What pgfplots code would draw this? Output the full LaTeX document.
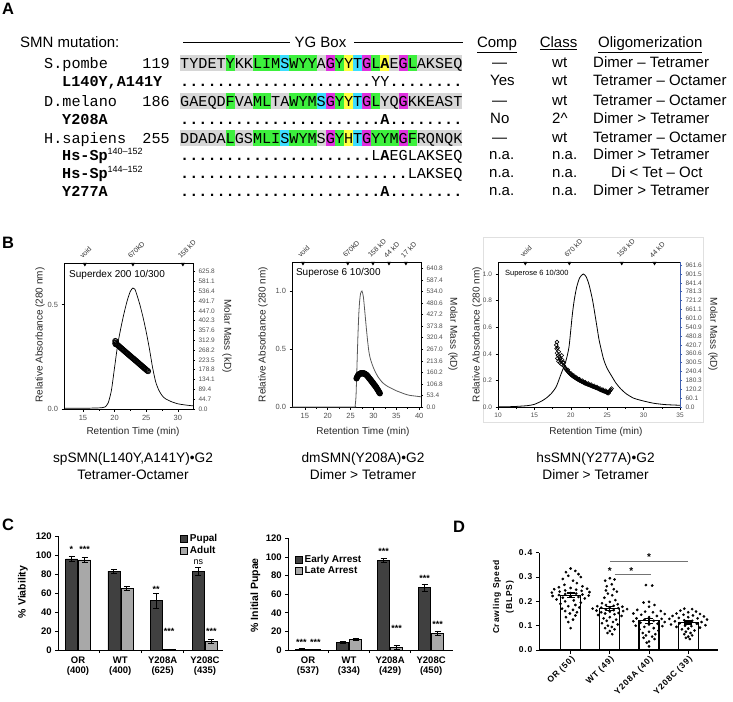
\documentclass[border=0pt]{standalone}
\usepackage{pgfplots}
\pgfplotsset{compat=1.18}
\usepackage{fontspec}
\setmainfont{Liberation Sans}
\newfontfamily\seqfont{Liberation Mono}
\newfontfamily\spfont[LetterSpace=10]{Liberation Sans}

\definecolor{hgray}{HTML}{D6D6D6}
\definecolor{hgreen}{HTML}{3DF03D}
\definecolor{hcyan}{HTML}{3DDDFF}
\definecolor{hmag}{HTML}{E030E0}
\definecolor{hyel}{HTML}{FFFF40}
\definecolor{bardark}{HTML}{404040}
\definecolor{barlight}{HTML}{A8A8A8}
\definecolor{tickgray}{HTML}{505050}
\definecolor{mmblue}{HTML}{4060B0}

\newcommand\seqF{\seqfont\fontsize{15.17}{16}\selectfont}
\newcommand\hl[4]{\fill[#1] ({180+(#2-1)*9.104},{#3-13.3}) rectangle ({180+(#2-1+#4)*9.104},{#3+3.4});}
\newcommand\supnum[1]{\raisebox{5.5pt}{\rmfamily\fontsize{9}{9}\selectfont #1}}

\tikzset{sigstar/.style={font=\bfseries\fontsize{9}{9}\selectfont, anchor=base, inner sep=0pt}}

\pgfplotsset{
  /pgf/number format/assume math mode=true,
  chrom/.style={scale only axis, clip=false, tick align=outside,
    axis line style={line width=0.7pt}, major tick length=2.5pt, minor tick length=1.5pt,
    tick style={black, line width=0.5pt},
    tick label style={font=\fontsize{7.5}{8}\selectfont, text=tickgray},
    yticklabel style={/pgf/number format/fixed, /pgf/number format/fixed zerofill, /pgf/number format/precision=1},
    xtick pos=bottom, ytick pos=left,
    label style={font=\fontsize{10}{11}\selectfont, text=black!85}},
  chromR/.style={scale only axis, axis x line=none, axis y line*=right, tick align=outside,
    major tick length=2pt, tick style={black, line width=0.5pt}, ytick pos=right,
    tick label style={font=\fontsize{6.5}{7}\selectfont, text=tickgray},
    yticklabel style={/pgf/number format/fixed, /pgf/number format/fixed zerofill, /pgf/number format/precision=1},
    label style={font=\fontsize{10}{11}\selectfont, text=black!85},
    axis line style={line width=0.7pt}},
  topmark/.style={only marks, mark=triangle*, mark size=2pt, mark options={rotate=180, fill=black, draw=black}},
  barC/.style={scale only axis, axis x line*=bottom, axis y line*=left,
    axis line style={-, line width=0.9pt}, ybar=1pt, bar width=12pt, ymin=0, ymax=120,
    ytick={0,20,...,120}, xtick={0,1,2,3}, tick align=outside, major tick length=3pt,
    tick style={black, line width=0.8pt}, major x tick style={draw=none},
    minor xtick={0.5,1.5,2.5}, minor tick length=3pt,
    xticklabel style={align=center, font=\bfseries\fontsize{9.5}{10.5}\selectfont},
    yticklabel style={font=\bfseries\fontsize{9.5}{10}\selectfont},
    ylabel style={font=\bfseries\fontsize{10.5}{11}\selectfont, anchor=center},
    legend style={draw=none, fill=none, font=\bfseries\fontsize{10}{11}\selectfont, inner sep=0pt, row sep=-1pt, cells={anchor=west}},
    legend image code/.code={\draw[#1, draw=black, line width=0.5pt] (0pt,-3.5pt) rectangle (7pt,3.5pt);},
    error bars/y dir=both, error bars/y explicit,
    error bars/error bar style={line width=0.8pt, black},
    error bars/error mark options={rotate=90, mark size=3pt, line width=0.8pt, black}},
}

\begin{document}
\begin{tikzpicture}
\path[use as bounding box] (0pt,-701pt) rectangle (733pt,0pt);

% ---------------- Panel A ----------------
\begin{scope}[x=1pt,y=-1pt]
\node[anchor=base west, inner sep=0, font=\bfseries\fontsize{16.5}{17}\selectfont] at (2,15) {A};
\node[anchor=base west, inner sep=0, font=\fontsize{15}{16}\selectfont] at (20,47.5) {SMN mutation:};
\node[anchor=base, inner sep=0, font=\fontsize{15}{16}\selectfont] at (320.5,47.5) {YG Box};
\draw[line width=0.9pt] (183.3,42.7) -- (290,42.7);
\draw[line width=0.9pt] (354,42.7) -- (463.3,42.7);
\node[anchor=base, inner sep=0, font=\fontsize{15}{16}\selectfont] at (497,47.5) {\underline{Comp}};
\node[anchor=base, inner sep=0, font=\fontsize{15}{16}\selectfont] at (558.5,47.5) {\underline{Class}};
\node[anchor=base west, inner sep=0, font=\fontsize{15}{16}\selectfont] at (598,47.5) {\underline{Oligomerization}};

% gray backgrounds
\foreach \b in {68,106,143}{\fill[hgray] (180,\b-13.3) rectangle (462.2,\b+3.4);}
% S.pombe highlights
\hl{hgreen}{6}{68}{1}\hl{hgreen}{9}{68}{3}\hl{hcyan}{12}{68}{1}\hl{hgreen}{13}{68}{3}
\hl{hmag}{17}{68}{1}\hl{hgreen}{18}{68}{1}\hl{hyel}{19}{68}{1}\hl{hcyan}{20}{68}{1}
\hl{hmag}{21}{68}{1}\hl{hgreen}{22}{68}{1}\hl{hyel}{23}{68}{1}\hl{hmag}{25}{68}{1}\hl{hgreen}{26}{68}{1}
% D.melano highlights
\hl{hgreen}{6}{106}{1}\hl{hgreen}{9}{106}{2}\hl{hgreen}{13}{106}{3}\hl{hcyan}{16}{106}{1}
\hl{hmag}{17}{106}{1}\hl{hgreen}{18}{106}{1}\hl{hyel}{19}{106}{1}\hl{hcyan}{20}{106}{1}
\hl{hmag}{21}{106}{1}\hl{hgreen}{22}{106}{1}\hl{hmag}{25}{106}{1}
% H.sapiens highlights
\hl{hgreen}{6}{143}{1}\hl{hgreen}{9}{143}{3}\hl{hcyan}{12}{143}{1}\hl{hgreen}{13}{143}{3}
\hl{hmag}{17}{143}{1}\hl{hgreen}{18}{143}{1}\hl{hyel}{19}{143}{1}\hl{hcyan}{20}{143}{1}
\hl{hmag}{21}{143}{1}\hl{hgreen}{22}{143}{3}\hl{hmag}{25}{143}{1}\hl{hgreen}{26}{143}{1}

\begin{scope}[every node/.style={anchor=base west, inner sep=0, font=\seqF}]
\node at (44,68) {S.pombe};
\node[anchor=base east] at (170,68) {119};
\node at (180,68) {TYDETYKKLIMSWYYAGYYTGL\textbf{A}EGLAKSEQ};
\node at (62,86) {\textbf{L140Y,A141Y}};
\node at (180,86) {\textbf{.....................}YY\textbf{........}};
\node at (44,106) {D.melano};
\node[anchor=base east] at (170,106) {186};
\node at (180,106) {GAEQDFVAMLTAWYMSGYYTGLYQGKKEAST};
\node at (62,124) {\textbf{Y208A}};
\node at (180,124) {\textbf{......................A........}};
\node at (44,143) {H.sapiens};
\node[anchor=base east] at (170,143) {255};
\node at (180,143) {DDADALGSMLISWYMSGYHTGYYMGFRQNQK};
\node at (62,160) {\textbf{Hs-Sp}\supnum{140\textendash152}};
\node at (180,160) {\textbf{.....................}L\textbf{A}EGLAKSEQ};
\node at (62,178) {\textbf{Hs-Sp}\supnum{144\textendash152}};
\node at (180,178) {\textbf{.........................}LAKSEQ};
\node at (62,196) {\textbf{Y277A}};
\node at (180,196) {\textbf{......................A........}};
\end{scope}

\begin{scope}[every node/.style={anchor=base west, inner sep=0, font=\fontsize{15}{16}\selectfont}]
\node at (492,67) {—};      \node at (552,67) {wt};   \node at (593,67) {Dimer – Tetramer};
\node at (490,85.5) {Yes};  \node at (552,85.5) {wt}; \node at (593,85.5) {Tetramer – Octamer};
\node at (492,105.5) {—};   \node at (552,105.5) {wt};\node at (593,105.5) {Tetramer – Octamer};
\node at (490,123.5) {No};  \node at (552,123.5) {2\textasciicircum}; \node at (593,123.5) {Dimer > Tetramer};
\node at (492,142.5) {—};   \node at (552,142.5) {wt};\node at (593,142.5) {Tetramer – Octamer};
\node at (489,159.5) {n.a.};\node at (552,159.5) {n.a.}; \node at (593,159.5) {Dimer > Tetramer};
\node at (489,177.5) {n.a.};\node at (552,177.5) {n.a.}; \node at (611,177.5) {Di < Tet – Oct};
\node at (489,195.5) {n.a.};\node at (552,195.5) {n.a.}; \node at (593,195.5) {Dimer > Tetramer};
\end{scope}

\node[anchor=base west, inner sep=0, font=\bfseries\fontsize{16.5}{17}\selectfont] at (2,248) {B};
\node[anchor=base west, inner sep=0, font=\bfseries\fontsize{16.5}{17}\selectfont] at (2,530) {C};
\node[anchor=base west, inner sep=0, font=\bfseries\fontsize{16.5}{17}\selectfont] at (453,532) {D};

% captions B
\begin{scope}[every node/.style={anchor=base, inner sep=0, font=\fontsize{13.7}{15}\selectfont}]
\node at (133,462.5) {spSMN(L140Y,A141Y)•G2};
\node at (133,479.5) {Tetramer-Octamer};
\node at (363,462.5) {dmSMN(Y208A)•G2};
\node at (363,479.5) {Dimer > Tetramer};
\node at (595.5,462.5) {hsSMN(Y277A)•G2};
\node at (595.5,479.5) {Dimer > Tetramer};
\end{scope}
\draw[black!12, line width=0.6pt] (483,237) rectangle (703,422);
\node[rotate=90, align=center, inner sep=0, font=\spfont\bfseries\fontsize{8.5}{13}\selectfont] at (503.5,597) {Crawling Speed\\(BLPS)};
\end{scope}

% ---------------- Panel B, plot 1 ----------------
\begin{axis}[chrom, at={(64pt,-409pt)}, anchor=south west, width=129pt, height=146pt,
  xmin=12, xmax=32.4, ymin=0, ymax=0.70, xtick={15,20,25,30}, ytick={0,0.5},
  minor x tick num=1,
  xlabel={Retention Time (min)}, ylabel={Relative Absorbance (280 nm)},
  xlabel style={at={(axis description cs:0.535,-0.158)}, anchor=center},
  ylabel style={at={(axis description cs:-0.186,0.507)}, anchor=center}]
\addplot[black, line width=0.7pt, smooth, tension=0.4] coordinates {
(12,0.004) (14,0.004) (16,0.004) (17,0.005) (18,0.006) (18.5,0.01) (19.0,0.03) (19.5,0.09)
(20.0,0.20) (20.5,0.31) (21.0,0.39) (21.5,0.46) (22.0,0.52) (22.5,0.565) (22.9,0.58)
(23.2,0.575) (23.5,0.55) (24.0,0.50) (24.5,0.44) (25.0,0.37) (25.5,0.29) (26.0,0.20)
(26.5,0.13) (27.0,0.09) (27.5,0.065) (28.0,0.05) (29.0,0.035) (30.0,0.025) (31.0,0.02) (32.4,0.015)};
\addplot[topmark] coordinates {(15.3,0.695) (22.9,0.695) (30.8,0.695)};
\node[rotate=45, anchor=south west, inner sep=0.5pt, font=\fontsize{7}{7}\selectfont, text=black!80] at ([xshift=-2pt,yshift=3pt]axis cs:15.3,0.70) {void};
\node[rotate=45, anchor=south west, inner sep=0.5pt, font=\fontsize{7}{7}\selectfont, text=black!80] at ([xshift=-2pt,yshift=3pt]axis cs:22.9,0.70) {670kD};
\node[rotate=45, anchor=south west, inner sep=0.5pt, font=\fontsize{7}{7}\selectfont, text=black!80] at ([xshift=-2pt,yshift=3pt]axis cs:30.8,0.70) {158 kD};
\node[anchor=west, inner sep=0, font=\fontsize{10}{11}\selectfont] at (axis description cs:0.039,0.918) {Superdex 200 10/300};
\end{axis}
\begin{axis}[chromR, at={(64pt,-409pt)}, anchor=south west, width=129pt, height=146pt,
  xmin=12, xmax=32.4, ymin=0, ymax=665,
  ytick={0,44.7,89.4,134.1,178.8,223.5,268.2,312.9,357.6,402.3,447.0,491.7,536.4,581.1,625.8},
  ylabel={Molar Mass (kD)},
  ylabel style={at={(axis description cs:1.264,0.5)}, anchor=center, rotate=180}]
\addplot[only marks, mark=o, mark size=2.6pt, mark options={line width=0.7pt, black}] coordinates {
(20.1,310) (20.15,295) (20.2,308) (20.1,300) (20.2,302) (20.3,296) (20.4,293) (20.5,291) (20.6,288)
(20.7,286) (20.8,283) (20.9,281) (21.0,278) (21.1,276) (21.2,273) (21.3,271) (21.4,268)
(21.5,266) (21.6,263) (21.7,261) (21.8,258) (21.9,256) (22.0,253) (22.1,251) (22.2,248)
(22.3,246) (22.4,243) (22.5,241) (22.6,238) (22.7,236) (22.8,233) (22.9,231) (23.0,229)
(23.1,226) (23.2,224) (23.3,221) (23.4,219) (23.5,216) (23.6,214) (23.7,211) (23.8,209)
(23.9,206) (24.0,204) (24.1,201) (24.2,199) (24.3,196) (24.4,194) (24.5,191) (24.6,189)
(24.7,186) (24.8,184) (24.9,181) (25.0,179) (25.1,176) (25.2,174) (25.3,172)};
\end{axis}

% ---------------- Panel B, plot 2 ----------------
\begin{axis}[chrom, at={(292pt,-407pt)}, anchor=south west, width=129pt, height=145pt,
  xmin=12.2, xmax=40.4, ymin=0, ymax=1.25, xtick={15,20,...,40}, ytick={0,0.5,1},
  minor x tick num=1,
  xlabel={Retention Time (min)}, ylabel={Relative Absorbance (280 nm)},
  xlabel style={at={(axis description cs:0.55,-0.172)}, anchor=center},
  ylabel style={at={(axis description cs:-0.225,0.5)}, anchor=center}]
\addplot[black!65, line width=0.8pt, smooth, tension=0.4] coordinates {
(12.2,0.0) (20,0.0) (25.8,0.0) (26.0,0.01) (26.2,0.1) (26.4,0.35) (26.6,0.6) (26.8,0.8)
(27.0,0.92) (27.2,0.98) (27.5,1.0) (27.8,0.95) (28.1,0.83) (28.4,0.70) (28.7,0.58)
(29.0,0.48) (29.3,0.42) (29.7,0.37) (30.2,0.32) (31.0,0.26) (32.0,0.21) (33.0,0.18)
(34.0,0.16) (35.0,0.14) (36.0,0.125) (37.0,0.11) (38.0,0.10) (39.0,0.095) (40.4,0.088)};
\addplot[topmark] coordinates {(14.6,1.241) (24.4,1.241) (29.9,1.241) (33.4,1.241) (37.1,1.241)};
\foreach \xx/\tt in {14.6/void, 24.4/670kD, 29.9/158 kD, 33.4/44 kD, 37.1/17 kD}{
  \edef\temp{\noexpand\node[rotate=45, anchor=south west, inner sep=0.5pt, font=\noexpand\fontsize{7}{7}\noexpand\selectfont, text=black!80] at ([xshift=-2pt,yshift=3pt]axis cs:\xx,1.25) {\tt};}
  \temp}
\node[anchor=west, inner sep=0, font=\fontsize{10}{11}\selectfont] at (axis description cs:0.03,0.924) {Superose 6 10/300};
\end{axis}
\begin{axis}[chromR, at={(292pt,-407pt)}, anchor=south west, width=129pt, height=145pt,
  xmin=12.2, xmax=40.4, ymin=0, ymax=670,
  ytick={0,53.4,106.8,160.2,213.6,267.0,320.4,373.8,427.2,480.6,534.0,587.4,640.8},
  ylabel={Molar Mass (kD)},
  ylabel style={at={(axis description cs:1.248,0.5)}, anchor=center, rotate=180}]
\addplot[only marks, mark=o, mark size=2.4pt, mark options={line width=1.3pt, black}] coordinates {
(26.3,132) (26.4,137) (26.5,141) (26.6,145) (26.7,148) (26.8,150) (26.9,152) (27.0,153)
(27.1,154) (27.2,155) (27.3,156) (27.4,156) (27.5,156) (27.6,156) (27.7,156) (27.8,155)
(27.9,155) (28.0,155) (28.1,154) (28.2,152) (28.3,151) (28.4,149) (28.5,148) (28.6,146)
(28.7,143) (28.8,141) (28.9,138) (29.0,135) (29.1,132) (29.2,130) (29.3,127) (29.4,125)
(29.5,122) (29.6,119) (29.7,116) (29.8,114) (29.9,111) (30.0,108) (30.1,105) (30.2,102)
(30.3,100) (30.4,97) (30.5,94) (30.6,91) (30.7,88) (30.8,84) (30.9,81) (31.0,78)
(31.1,74) (31.2,70) (31.3,67) (31.4,63)};
\end{axis}

% ---------------- Panel B, plot 3 ----------------
\begin{axis}[chrom, at={(498pt,-407pt)}, anchor=south west, width=182pt, height=145pt,
  xmin=10, xmax=35, ymin=0, ymax=1.09, xtick={10,15,...,35}, ytick={0,0.2,0.4,0.6,0.8,1.0},
  minor x tick num=1,
  tick label style={font=\fontsize{6.5}{7}\selectfont},
  xlabel={Retention Time (min)}, ylabel={Relative Absorbance (280 nm)},
  xlabel style={at={(axis description cs:0.538,-0.172)}, anchor=center},
  ylabel style={at={(axis description cs:-0.115,0.5)}, anchor=center}]
\addplot[black, line width=0.8pt, smooth, tension=0.4] coordinates {
(10,0.002) (12,0.003) (14,0.01) (15,0.02) (16,0.045) (16.6,0.066) (17.3,0.10) (18.0,0.153)
(18.7,0.254) (19.1,0.31) (19.4,0.36) (19.75,0.45) (20.0,0.58) (20.2,0.69) (20.46,0.8)
(20.8,0.9) (21.2,0.97) (21.7,1.0) (22.1,0.98) (22.5,0.92) (23.0,0.8) (23.6,0.6) (23.9,0.5)
(24.5,0.36) (25.0,0.29) (25.65,0.229) (26.2,0.18) (26.8,0.14) (27.6,0.10) (28.65,0.066)
(30,0.045) (31.4,0.028) (33,0.018) (35,0.013)};
\addplot[topmark] coordinates {(13.75,1.0825) (19.8,1.0825) (27.0,1.0825) (31.5,1.0825)};
\foreach \xx/\tt in {13.75/void, 19.8/670 kD, 27.0/158 kD, 31.5/44 kD}{
  \edef\temp{\noexpand\node[rotate=45, anchor=south west, inner sep=0.5pt, font=\noexpand\fontsize{7}{7}\noexpand\selectfont, text=black!80] at ([xshift=-2pt,yshift=3pt]axis cs:\xx,1.09) {\tt};}
  \temp}
\node[anchor=west, inner sep=0, font=\fontsize{7.5}{8}\selectfont] at (axis description cs:0.038,0.917) {Superose 6 10/300};
\end{axis}
\begin{axis}[chromR, at={(498pt,-407pt)}, anchor=south west, width=182pt, height=145pt,
  xmin=10, xmax=35, ymin=0, ymax=982,
  axis line style={mmblue}, tick style={mmblue},
  ytick={0,60.1,120.2,180.3,240.4,300.5,360.6,420.7,480.8,540.9,601.0,661.1,721.2,781.3,841.4,901.5,961.6},
  ylabel={Molar Mass (kD)},
  ylabel style={at={(axis description cs:1.181,0.5)}, anchor=center, rotate=180}]
\addplot[only marks, mark=o, mark size=1.9pt, mark options={line width=0.6pt, black}] coordinates {
(18.0,420) (18.05,395) (18.1,440) (18.1,365) (18.15,330) (18.2,400) (18.25,350) (18.3,310)
(18.35,375) (18.4,340) (18.5,300) (18.55,330) (18.6,315) (18.7,290) (18.75,350) (18.8,320)
(18.9,300) (19.0,280) (19.05,300) (19.1,275) (19.2,265) (19.3,258) (19.4,252) (19.5,246)
(19.6,240) (19.7,234) (19.8,230) (19.9,225) (20.0,220) (20.1,216) (20.2,212) (20.3,208)
(20.4,205) (20.5,201) (20.6,198) (20.7,195) (20.8,192) (20.9,189) (21.0,186) (21.1,183)
(21.2,180) (21.3,178) (21.4,175) (21.5,172) (21.6,170) (21.7,168) (21.8,165) (21.9,162)
(22.0,160) (22.1,158) (22.2,156) (22.3,154) (22.4,152) (22.5,150) (22.6,148) (22.7,146)
(22.8,144) (22.9,142) (23.0,140) (23.1,138) (23.2,136) (23.3,134) (23.4,132) (23.5,130)
(23.6,128) (23.7,126) (23.8,124) (23.9,121) (24.0,118) (24.1,116) (24.2,114) (24.3,112)
(24.4,110) (24.5,108) (24.6,106) (24.7,104) (24.8,103) (24.9,102) (25.0,101) (25.1,100)
(25.2,102) (25.3,106) (25.4,110) (25.5,118) (25.6,125)
(19.6,252) (20.0,228) (20.4,214) (20.8,200) (21.2,188) (21.6,178) (22.0,168) (22.4,160)
(22.8,152) (23.2,144) (23.6,136) (24.0,126) (24.4,118) (24.8,111) (25.0,95) (25.2,94)};
\end{axis}

% ---------------- Panel C left ----------------
\begin{axis}[barC, at={(58.3pt,-650pt)}, anchor=south west, width=164.4pt, height=114pt,
  xmin=-0.466, xmax=3.42,
  xticklabels={{OR\\(400)},{WT\\(400)},{Y208A\\(625)},{Y208C\\(435)}},
  ylabel={\% Viability},
  ylabel style={at={(axis description cs:-0.215,0.51)}},
  legend style={at={(axis description cs:0.98,1.035)}, anchor=north east}]
\addplot[fill=bardark, draw=black, line width=0.5pt] coordinates {(0,96) +- (0,3) (1,83) +- (0,2) (2,52) +- (0,8) (3,83) +- (0,4)};
\addplot[fill=barlight, draw=black, line width=0.5pt] coordinates {(0,95) +- (0,3) (1,65) +- (0,2) (2,0.8) +- (0,0.3) (3,9) +- (0,2)};
\legend{Pupal, Adult}
\node[sigstar] at (axis cs:-0.154,102.5) {*};
\node[sigstar] at (axis cs:0.154,102.5) {***};
\node[sigstar] at (axis cs:1.846,60.4) {**};
\node[sigstar] at (axis cs:2.154,16.2) {***};
\node[sigstar, font=\fontsize{9}{9}\selectfont] at (axis cs:2.846,89.5) {ns};
\node[sigstar] at (axis cs:3.154,16.2) {***};
\end{axis}

% ---------------- Panel C right ----------------
\begin{axis}[barC, at={(288.3pt,-650pt)}, anchor=south west, width=165pt, height=111.7pt,
  xmin=-0.48, xmax=3.54,
  xticklabels={{OR\\(537)},{WT\\(334)},{Y208A\\(429)},{Y208C\\(450)}},
  ylabel={\% Initial Pupae},
  ylabel style={at={(axis description cs:-0.2,0.49)}},
  legend style={at={(axis description cs:0.04,0.868)}, anchor=north west}]
\addplot[fill=bardark, draw=black, line width=0.5pt] coordinates {(0,1) +- (0,0.5) (1,8) +- (0,1) (2,96) +- (0,2) (3,67) +- (0,4)};
\addplot[fill=barlight, draw=black, line width=0.5pt] coordinates {(0,0.3) +- (0,0.2) (1,11.5) +- (0,1.5) (2,3) +- (0,2) (3,18) +- (0,2.5)};
\legend{Early Arrest, Late Arrest}
\node[sigstar] at (axis cs:-0.16,4.7) {***};
\node[sigstar] at (axis cs:0.18,4.7) {***};
\node[sigstar] at (axis cs:1.84,102.6) {***};
\node[sigstar] at (axis cs:2.16,20.1) {***};
\node[sigstar] at (axis cs:2.84,73.9) {***};
\node[sigstar] at (axis cs:3.16,23.7) {***};
\end{axis}

% ---------------- Panel D ----------------
\begin{axis}[scale only axis, at={(539.3pt,-650pt)}, anchor=south west, width=178.7pt, height=97.3pt,
  xmin=-0.8, xmax=3.76, ymin=0, ymax=0.4, clip=false,
  axis x line*=bottom, axis y line*=left, axis line style={-, line width=1.1pt},
  tick align=outside, major tick length=3.5pt, tick style={line width=1pt, black},
  xtick={0,1,2,3}, xticklabels={OR (50), WT (49), Y208A (40), Y208C (39)},
  xticklabel style={rotate=45, anchor=north east, inner sep=1pt, font=\spfont\bfseries\fontsize{8.5}{9}\selectfont},
  ytick={0,0.1,0.2,0.3,0.4},
  yticklabel style={/pgf/number format/fixed, /pgf/number format/fixed zerofill, /pgf/number format/precision=1, font=\spfont\bfseries\fontsize{8.5}{9}\selectfont}]
\addplot[ybar, bar width=20pt, fill=white, draw=black, line width=1.3pt] coordinates {(0,0.225) (1,0.170) (2,0.120) (3,0.113)};
\addplot[only marks, mark=*, mark size=1.15pt, black] coordinates {
(0.00,0.335) (0.12,0.325) (-0.12,0.320) (0.20,0.312) (-0.06,0.305) (0.26,0.300) (-0.20,0.292) (0.06,0.285)
(0.16,0.275) (-0.16,0.268) (0.30,0.262) (-0.30,0.258) (0.00,0.255) (0.42,0.252) (-0.42,0.250) (0.14,0.248)
(-0.14,0.245) (0.28,0.243) (-0.28,0.240) (0.48,0.238) (-0.48,0.236) (0.00,0.234) (0.14,0.232) (-0.14,0.230)
(0.30,0.228) (-0.30,0.226) (0.46,0.224) (-0.46,0.222) (0.00,0.220) (0.20,0.218) (-0.20,0.215) (0.36,0.212)
(-0.36,0.208) (0.08,0.204) (-0.14,0.200) (0.26,0.195) (-0.26,0.190) (0.12,0.185) (-0.06,0.180) (0.22,0.175)
(-0.22,0.170) (0.06,0.165) (-0.14,0.160) (0.16,0.155) (-0.02,0.150) (0.12,0.142) (-0.12,0.135) (0.06,0.125)
(-0.06,0.115) (0.00,0.090)
(1.00,0.295) (1.12,0.290) (0.88,0.285) (1.05,0.270) (0.92,0.262) (1.10,0.250) (0.90,0.245) (1.18,0.240)
(0.95,0.232) (1.06,0.225) (0.86,0.215) (1.14,0.205) (1.00,0.198) (0.80,0.192) (1.20,0.188) (0.90,0.185)
(1.10,0.182) (0.68,0.180) (1.32,0.178) (1.00,0.176) (0.78,0.174) (1.22,0.172) (0.56,0.170) (1.44,0.168)
(0.90,0.166) (1.10,0.164) (0.66,0.162) (1.34,0.160) (1.00,0.158) (0.78,0.155) (1.22,0.152) (0.88,0.150)
(1.12,0.147) (0.70,0.144) (1.30,0.140) (1.00,0.135) (0.84,0.130) (1.16,0.125) (0.92,0.120) (1.08,0.115)
(0.80,0.110) (1.20,0.105) (0.95,0.100) (1.05,0.095) (0.88,0.090) (1.12,0.085) (1.00,0.078) (0.94,0.070)
(1.06,0.065)
(1.92,0.267) (2.08,0.265) (2.00,0.198) (1.86,0.195) (2.14,0.185) (2.00,0.178) (1.70,0.165) (2.30,0.160)
(1.90,0.158) (2.10,0.155) (1.60,0.150) (2.40,0.148) (1.80,0.145) (2.20,0.140) (2.00,0.135) (1.68,0.130)
(2.32,0.128) (1.88,0.125) (2.12,0.120) (1.60,0.118) (2.40,0.115) (1.78,0.112) (2.22,0.108) (2.00,0.105)
(1.66,0.100) (2.34,0.098) (1.88,0.095) (2.12,0.090) (1.76,0.085) (2.24,0.080) (2.00,0.075) (1.84,0.070)
(2.16,0.065) (1.92,0.060) (2.08,0.055) (1.86,0.050) (2.14,0.045) (2.00,0.035) (1.94,0.030) (2.00,0.015)
(2.90,0.170) (3.10,0.168) (2.80,0.162) (3.20,0.158) (3.00,0.155) (2.70,0.150) (3.30,0.148) (2.88,0.145)
(3.12,0.142) (2.60,0.140) (3.40,0.138) (3.00,0.135) (2.76,0.132) (3.24,0.130) (2.52,0.128) (3.48,0.125)
(2.90,0.122) (3.10,0.120) (2.66,0.118) (3.34,0.115) (3.00,0.112) (2.78,0.110) (3.22,0.108) (2.56,0.105)
(3.44,0.102) (2.92,0.100) (3.08,0.098) (2.70,0.095) (3.30,0.092) (3.00,0.088) (2.84,0.085) (3.16,0.080)
(2.94,0.075) (3.06,0.070) (2.90,0.065) (3.10,0.060) (3.00,0.055) (2.94,0.050) (3.04,0.045)};
\addplot[only marks, mark=-, mark size=6pt, mark options={line width=1.3pt, black},
  error bars/.cd, y dir=both, y explicit, error bar style={line width=1.2pt, black},
  error mark options={rotate=90, mark size=4pt, line width=1.2pt, black}] coordinates {
(0,0.225) +- (0,0.009) (1,0.170) +- (0,0.008) (2,0.120) +- (0,0.010) (3,0.113) +- (0,0.006)};
\addplot[black!55, line width=0.9pt] coordinates {(1,0.365) (3,0.365)};
\addplot[black!55, line width=0.9pt] coordinates {(1.12,0.31) (2.05,0.31)};
\node[font=\bfseries\fontsize{10}{10}\selectfont, anchor=base, inner sep=0] at (axis cs:2,0.366) {*};
\node[font=\bfseries\fontsize{10}{10}\selectfont, anchor=base, inner sep=0] at (axis cs:1.55,0.311) {*};
\node[font=\bfseries\fontsize{10}{10}\selectfont, anchor=base, inner sep=0] at (axis cs:1.0,0.311) {*};
\end{axis}
\end{tikzpicture}
\end{document}
